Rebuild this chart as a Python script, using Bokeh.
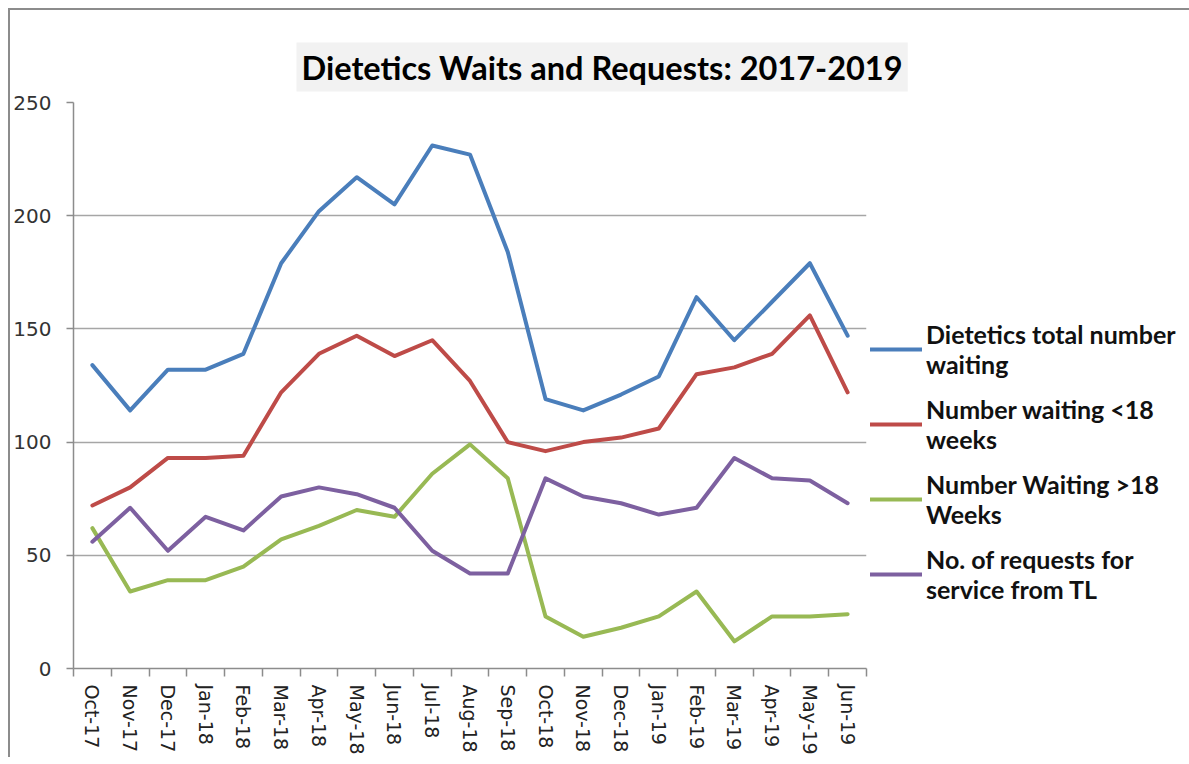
from bokeh.plotting import figure
from bokeh.models import Range1d, FixedTicker, SingleIntervalTicker, Legend, LegendItem
from bokeh.embed import file_html
from bokeh.resources import INLINE

months = ["Oct-17", "Nov-17", "Dec-17", "Jan-18", "Feb-18", "Mar-18", "Apr-18", "May-18",
          "Jun-18", "Jul-18", "Aug-18", "Sep-18", "Oct-18", "Nov-18", "Dec-18", "Jan-19",
          "Feb-19", "Mar-19", "Apr-19", "May-19", "Jun-19"]
total_waiting = [134, 114, 132, 132, 139, 179, 202, 217, 205, 231, 227, 184,
                 119, 114, 121, 129, 164, 145, 162, 179, 147]
under_18 = [72, 80, 93, 93, 94, 122, 139, 147, 138, 145, 127, 100,
            96, 100, 102, 106, 130, 133, 139, 156, 122]
over_18 = [62, 34, 39, 39, 45, 57, 63, 70, 67, 86, 99, 84,
           23, 14, 18, 23, 34, 12, 23, 23, 24]
requests_tl = [56, 71, 52, 67, 61, 76, 80, 77, 71, 52, 42, 42,
               84, 76, 73, 68, 71, 93, 84, 83, 73]

series_names = ["Dietetics total number\nwaiting", "Number waiting <18\nweeks",
                "Number Waiting >18\nWeeks", "No. of requests for\nservice from TL"]
series_values = [total_waiting, under_18, over_18, requests_tl]
series_colors = ["#4A7EBB", "#BE4B48", "#98B954", "#7D60A0"]
title_text = "Dietetics Waits and Requests: 2017-2019"

xs = [i + 0.5 for i in range(len(months))]

p = figure(frame_width=793, frame_height=566, output_backend="svg", toolbar_location=None,
           x_range=Range1d(0, len(months)), y_range=Range1d(0, 250),
           min_border_left=60, min_border_top=92, min_border_right=0, min_border_bottom=6,
           margin=(8, 0, 0, 8),
           styles={"border-left": "2px solid #8C8C8C", "border-top": "2px solid #8C8C8C"})
p.title.text = title_text
p.title.text_font = "Lato"
p.title.text_font_size = "32.5px"
p.title.text_font_style = "bold"
p.title.text_color = "#000000"
p.title.align = "left"
p.title.vertical_align = "top"
p.title.offset = 223
p.title.background_fill_color = "#F2F2F2"
p.title.padding = 5
p.title.standoff = 18

p.outline_line_color = None
p.background_fill_color = "white"
p.border_fill_color = "white"

# x axis
p.xaxis.ticker = FixedTicker(ticks=xs, minor_ticks=list(range(len(months) + 1)))
p.xaxis.major_label_overrides = {x: m for x, m in zip(xs, months)}
p.xaxis.major_label_orientation = "vertical"
p.xaxis.major_tick_out = 0
p.xaxis.major_tick_in = 0
p.xaxis.minor_tick_out = 8
p.xaxis.minor_tick_in = 0
p.xaxis.minor_tick_line_color = "#8C8C8C"
p.xaxis.minor_tick_line_width = 1.5
p.xaxis.major_label_text_font = "DejaVu Sans"
p.xaxis.major_label_text_font_size = "19px"
p.xaxis.major_label_text_color = "#222222"
p.xaxis.major_label_standoff = 8

# y axis
p.yaxis.ticker = SingleIntervalTicker(interval=50)
p.yaxis.minor_tick_line_color = None
p.yaxis.major_tick_out = 7
p.yaxis.major_tick_in = 0
p.yaxis.major_label_text_font = "DejaVu Sans"
p.yaxis.major_label_text_font_size = "20px"
p.yaxis.major_label_text_color = "#333333"
p.yaxis.major_label_standoff = 15

for ax in (p.xaxis, p.yaxis):
    ax.axis_line_color = "#8C8C8C"
    ax.axis_line_width = 1.5
    ax.major_tick_line_color = "#8C8C8C"
    ax.major_tick_line_width = 1.5

p.xgrid.grid_line_color = None
p.ygrid.grid_line_color = "#A6A6A6"
p.ygrid.grid_line_width = 1.5

items = []
for name, vals, col in zip(series_names, series_values, series_colors):
    r = p.line(xs, vals, line_color=col, line_width=4, line_join="round", line_cap="round")
    items.append(LegendItem(label=name, renderers=[r]))

legend = Legend(items=items, location=(4, 64))
legend.label_text_font = "Lato"
legend.label_text_font_style = "bold"
legend.label_text_font_size = "25px"
legend.label_text_color = "#111111"
legend.glyph_width = 52
legend.label_standoff = 4
legend.spacing = 15
legend.border_line_color = None
legend.background_fill_alpha = 0
legend.padding = 2
legend.margin = 0
p.add_layout(legend, "right")

open("out.html", "w").write(file_html(p, INLINE))
